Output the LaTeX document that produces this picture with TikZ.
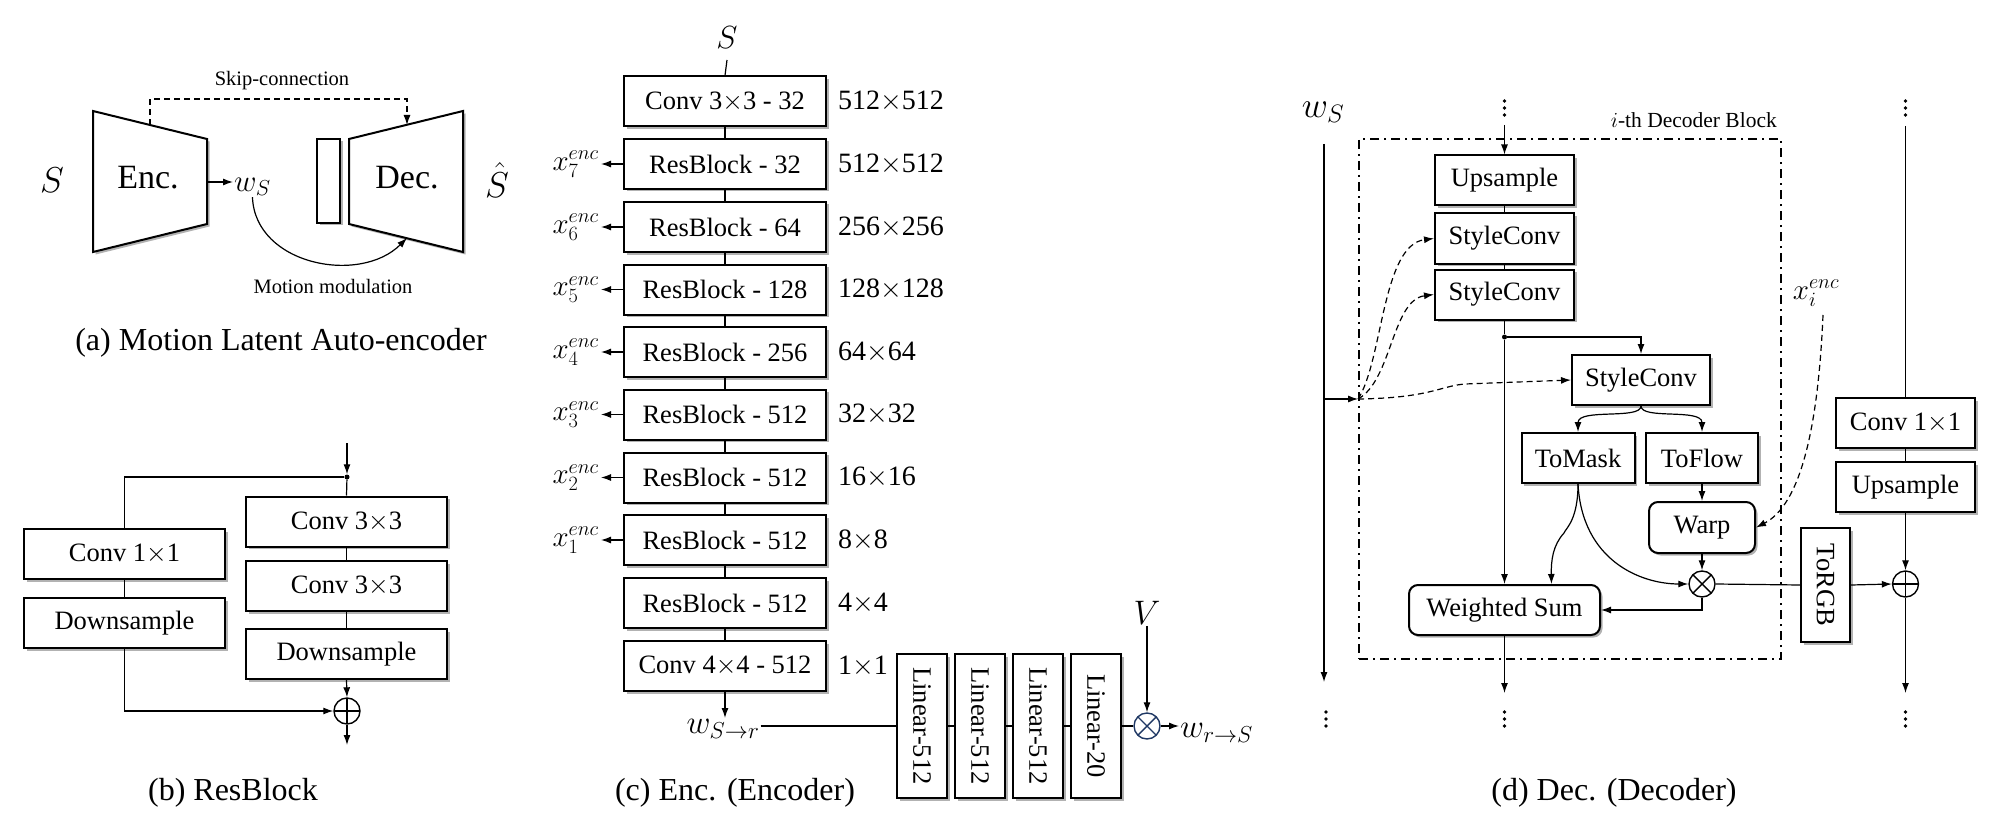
\documentclass[tikz,border=0pt]{standalone}
\usepackage{fix-cm}
\usepackage{fontspec}
\setmainfont{Liberation Serif}
\usetikzlibrary{arrows.meta,shadows,calc}
\definecolor{navy}{RGB}{31,56,100}
\tikzset{
  fs/.style={font=\fontsize{#1}{#1}\selectfont},
  box/.style={draw, line width=2pt, fill=white, inner sep=0pt, minimum height=50pt,
    fs=26.5, drop shadow={shadow xshift=2.5pt, shadow yshift=-2.5pt, opacity=0.3, fill=black}},
  rbox/.style={box, rounded corners=9pt},
  conn/.style={line width=1.2pt},
  arr/.style={conn, -{Latex[length=10pt,width=7pt]}},
  dconn/.style={conn, dash pattern=on 6pt off 4pt},
  darr/.style={dconn, -{Latex[length=10pt,width=7pt]}},
  oplusnode/.style={circle, draw, line width=1.4pt, fill=white, minimum size=26pt, inner sep=0pt,
    path picture={\draw[line width=1.4pt] (path picture bounding box.north) -- (path picture bounding box.south)
      (path picture bounding box.west) -- (path picture bounding box.east);}},
  otimesnode/.style={circle, draw, line width=1.4pt, fill=white, minimum size=26pt, inner sep=0pt,
    path picture={\draw[line width=1.4pt] (path picture bounding box.north west) -- (path picture bounding box.south east)
      (path picture bounding box.south west) -- (path picture bounding box.north east);}},
  jdot/.style={circle, fill, inner sep=0pt, minimum size=5pt},
  caption/.style={fs=32},
  small/.style={fs=20.5},
  mlab/.style={fs=29, inner sep=2pt},
  mbig/.style={fs=#1, inner sep=1pt},
  trap/.style={line width=2pt, fill=white, drop shadow={shadow xshift=2.5pt, shadow yshift=-2.5pt, opacity=0.3, fill=black}},
  blockframe/.style={draw, line width=1.8pt, dash pattern=on 9pt off 5pt on 2pt off 5pt, inner sep=0pt},
}
\newcommand{\vdotsat}[2]{\fill (#1,#2) circle (1.8pt) (#1,#2+7) circle (1.8pt) (#1,#2+14) circle (1.8pt);}
\begin{document}
\begin{tikzpicture}[x=1pt,y=-1pt]
\useasboundingbox (0,0) rectangle (2000,821);

% ================= (a) =================
\draw[trap] (93,111) -- (207,139) -- (207,224) -- (93,252) -- cycle;
\draw[trap] (349,139) -- (463,111) -- (463,252) -- (349,224) -- cycle;
\draw[trap] (317,139) rectangle (340,223);
\node[fs=34, inner sep=1pt] (enc) at (148,178) {Enc.};
\node[fs=34, inner sep=1pt] (dec) at (407,178) {Dec.};
\node[mbig=36] (Sa) at (52,180) {$S$};
\node[mbig=36] (Sha) at (497,180) {$\hat{S}$};
\coordinate (encR) at (207,182);
\node[mbig=31, anchor=west] (wsa) at (233,187) {$w_S$};
\draw[arr] (encR) -- (encR -| wsa.west);
\coordinate (encT) at (150,125);
\coordinate (decT) at (407,125);
\coordinate (decB) at (407,238);
\draw[darr] (encT) -- (150,99) -- (407,99) -- (decT);
\node[small] (skip) at (282,81) {Skip-connection};
\draw[arr] (wsa.south) .. controls (255,265) and (360,285) .. (decB);
\node[small] (mm) at (333,286) {Motion modulation};
\node[caption] (capa) at (281,343) {(a) Motion Latent Auto-encoder};

% ================= (b) =================
\coordinate (inb) at (347,443);
\node[jdot] (jb) at (347,477) {};
\node[box, minimum width=201pt] (c11) at (124.5,554) {Conv 1$\times$1};
\node[box, minimum width=201pt] (dsl) at (124.5,623) {Downsample};
\node[box, minimum width=201pt] (c33a) at (346.5,521.5) {Conv 3$\times$3};
\node[box, minimum width=201pt] (c33b) at (346.5,586) {Conv 3$\times$3};
\node[box, minimum width=201pt] (dsr) at (346.5,654) {Downsample};
\node[oplusnode] (opb) at (347,711) {};
\coordinate (outb) at (347,745);
\draw[arr] (inb) -- (jb);
\draw[conn] (jb) -| (c11.north);
\draw[conn] (c11) -- (dsl);
\draw[arr] (dsl.south) |- (opb.west);
\draw[conn] (jb) -- (c33a.north);
\draw[conn] (c33a) -- (c33b);
\draw[conn] (c33b) -- (dsr);
\draw[arr] (dsr.south) -- (opb.north);
\draw[arr] (opb.south) -- (outb);
\node[caption] (capb) at (233,793) {(b) ResBlock};

% ================= (c) =================
\node[mbig=32] (Sc) at (727,38) {$S$};
\foreach \n/\y/\t in {e0/101.5/{Conv 3$\times$3 - 32}, e1/164/{ResBlock - 32}, e2/227/{ResBlock - 64},
  e3/289.5/{ResBlock - 128}, e4/352/{ResBlock - 256}, e5/414.5/{ResBlock - 512}, e6/477.5/{ResBlock - 512},
  e7/540/{ResBlock - 512}, e8/603/{ResBlock - 512}, e9/666/{Conv 4$\times$4 - 512}}
  {\node[box, minimum width=202pt] (\n) at (725,\y) {\t};}
\draw[conn] (727,60) -- (e0.north);
\foreach \a/\b in {e0/e1,e1/e2,e2/e3,e3/e4,e4/e5,e5/e6,e6/e7,e7/e8,e8/e9}
  {\draw[conn] (\a) -- (\b);}
\foreach \n/\t in {e0/512$\times$512, e1/512$\times$512, e2/256$\times$256, e3/128$\times$128, e4/64$\times$64,
  e5/32$\times$32, e6/16$\times$16, e7/8$\times$8, e8/4$\times$4, e9/1$\times$1}
  {\node[fs=28, anchor=west, inner sep=0pt] (sz\n) at ([xshift=11pt]\n.east) {\t};}
\foreach \n/\k in {e1/7,e2/6,e3/5,e4/4,e5/3,e6/2,e7/1}
  {\node[mlab, anchor=east] (x\k) at ([xshift=-22pt]\n.west) {$x_{\k}^{enc}$};
   \draw[arr] (\n.west) -- (x\k.east);}
\node[mbig=33, anchor=north] (wsr) at (723,718) {$w_{S\to r}$};
\draw[arr] (e9.south) -- (e9.south |- wsr.north);
\foreach \n/\x/\t in {l1/922/Linear-512, l2/980/Linear-512, l3/1038/Linear-512, l4/1096/Linear-20}
  {\node[box, rotate=-90, minimum width=144pt, minimum height=50pt] (\n) at (\x,726) {\t};}
\node[otimesnode, draw=navy] (otc) at (1147,726) {};
\draw[conn] (wsr.east |- l1.south) -- (l1.south);
\draw[conn] (l1.north) -- (l2.south);
\draw[conn] (l2.north) -- (l3.south);
\draw[conn] (l3.north) -- (l4.south);
\draw[conn] (l4.north) -- (otc.west);
\node[mbig=34] (V) at (1147,613) {$V$};
\draw[arr] (V.south) -- (otc.north);
\node[mbig=33, anchor=west] (wrs) at (1179,733) {$w_{r\to S}$};
\draw[arr] (otc.east) -- (otc.east -| wrs.west);
\node[caption] (capc) at (735,793) {(c) Enc. (Encoder)};

% ================= (d) =================
\node[blockframe, minimum width=422pt, minimum height=520pt] (blk) at (1570,399) {};
\node[fs=21.5, anchor=base east, inner sep=0pt] (blklbl) at (1777,128) {$i$-th Decoder Block};
\node[mbig=36] (wsd) at (1323,112) {$w_S$};
\coordinate (wsend) at (1324,682);
\draw[arr] (1324,144) -- (wsend);
\coordinate (J) at (blk.west);
\draw[arr] (1324,399) -- (J);

\node[box, minimum width=139pt] (up) at (1504.5,180.5) {Upsample};
\node[box, minimum width=139pt] (sc1) at (1504.5,238.5) {StyleConv};
\node[box, minimum width=139pt] (sc2) at (1504.5,294.5) {StyleConv};
\node[jdot] (jd) at (1504.5,337) {};
\node[box, minimum width=138pt] (sc3) at (1641,380) {StyleConv};
\node[box, minimum width=113pt] (tomask) at (1578,458) {ToMask};
\node[box, minimum width=112pt] (toflow) at (1702,458) {ToFlow};
\node[rbox, minimum width=106pt, minimum height=51pt] (warp) at (1702,527.5) {Warp};
\node[otimesnode] (otd) at (1702,584) {};
\node[rbox, minimum width=191pt] (wsum) at (1504.5,610) {Weighted Sum};
\node[box, rotate=-90, minimum width=114pt, minimum height=49pt] (torgb) at (1825.5,585) {ToRGB};
\node[box, minimum width=139pt] (c11d) at (1905.5,423) {Conv 1$\times$1};
\node[box, minimum width=139pt] (upd) at (1905.5,487) {Upsample};
\node[oplusnode] (opd) at (1905.5,584) {};

\vdotsat{1504.5}{101}
\vdotsat{1905.5}{101}
\vdotsat{1326}{712}
\vdotsat{1504.5}{712}
\vdotsat{1905.5}{712}

\draw[arr] (1504.5,125) -- (up.north);
\draw[conn] (up) -- (sc1);
\draw[conn] (sc1) -- (sc2);
\draw[conn] (sc2.south) -- (jd);
\draw[arr] (jd) -| (sc3.north);
\draw[arr] (jd) -- (wsum.north);
\draw[arr] (sc3.south) .. controls (1641,420) and (1578,408) .. (tomask.north);
\draw[arr] (sc3.south) .. controls (1641,420) and (1702,408) .. (toflow.north);
\draw[arr] (toflow) -- (warp);
\draw[arr] (warp) -- (otd);
\draw[arr] (tomask.south) .. controls (1578,520) and (1566,528) .. (1564,533)
  .. controls (1553,545) and (1551,560) .. ([xshift=47pt]wsum.north);
\draw[arr] (tomask.south) .. controls (1582,560) and (1640,584) .. (otd.west);
\draw[arr] (otd.south) |- (wsum.east);
\draw[conn] (otd.east) -- (torgb.south);
\draw[arr] (torgb.north) -- (opd.west);
\draw[conn] (1905.5,126) -- (c11d.north);
\draw[conn] (c11d) -- (upd);
\draw[arr] (upd.south) -- (opd.north);
\draw[arr] (opd.south) -- (1905.5,693);
\draw[arr] (wsum.south) -- (1504.5,693);

\draw[darr] (J) .. controls (1383,360) and (1382,245) .. (sc1.west);
\draw[darr] (J) .. controls (1392,380) and (1392,300) .. (sc2.west);
\draw[darr] (J) .. controls (1430,398) and (1440,386) .. (1465,384) -- (sc3.west);

\node[mlab] (xi) at (1816,293) {$x_i^{enc}$};
\draw[darr] (1823,315) .. controls (1818,430) and (1800,505) .. (warp.east);

\node[caption] (capd) at (1614,793) {(d) Dec. (Decoder)};
\end{tikzpicture}
\end{document}
